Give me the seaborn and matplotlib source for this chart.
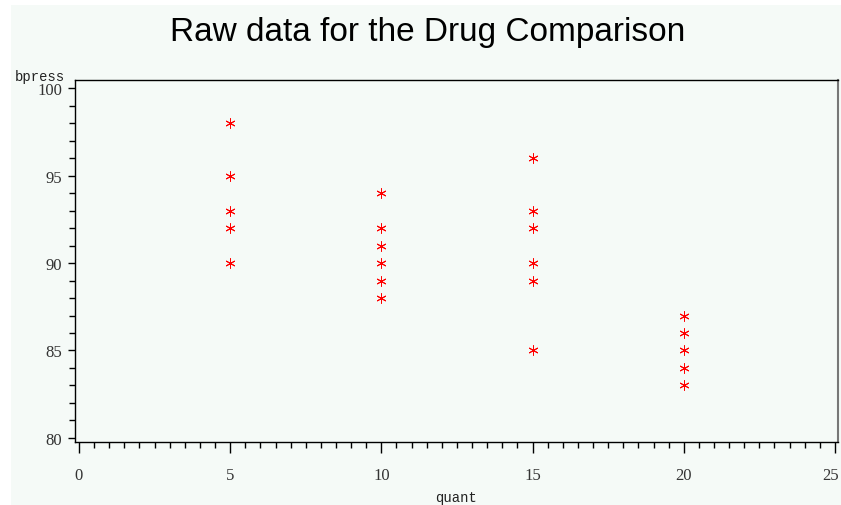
import numpy as np
import pandas as pd
import seaborn as sns
import matplotlib.pyplot as plt
import matplotlib.transforms as mtransforms
from matplotlib.patches import Rectangle
from matplotlib.ticker import MultipleLocator

# Raw data
quant = [5, 5, 5, 5, 5,
         10, 10, 10, 10, 10, 10,
         15, 15, 15, 15, 15, 15,
         20, 20, 20, 20, 20]
bpress = [98, 95, 93, 92, 90,
          94, 92, 91, 90, 89, 88,
          96, 93, 92, 90, 89, 85,
          87, 86, 85, 84, 83]
x_ticks = [0, 5, 10, 15, 20, 25]
y_ticks = [80, 85, 90, 95, 100]

df = pd.DataFrame({"quant": quant, "bpress": bpress})

sns.set_style("white")
plt.rcParams["font.family"] = ["Liberation Sans", "DejaVu Sans"]

W, H = 841, 506
fig = plt.figure(figsize=(W / 100, H / 100), dpi=100)
bg = "#f5faf7"
fig.patch.set_facecolor("white")
fig.add_artist(Rectangle((11 / W, 0), 1 - 11 / W, 1 - 6 / H, transform=fig.transFigure,
                         facecolor=bg, edgecolor="none", zorder=-10))

ax = fig.add_axes([75 / W, 1 - 443 / H, (838 - 75) / W, (443 - 81) / H])
ax.set_facecolor(bg)

sns.scatterplot(data=df, x="quant", y="bpress", marker=(6, 2, 0), color="red",
                s=45, linewidth=0.7, ax=ax, legend=False)

ax.set_xlim(-0.13, 25.1)
ax.set_ylim(79.77, 100.46)
ax.set_xticks(x_ticks)
ax.set_yticks(y_ticks)
ax.xaxis.set_minor_locator(MultipleLocator(0.5))
ax.yaxis.set_minor_locator(MultipleLocator(1))
ax.tick_params(axis="both", which="both", bottom=True, left=True, top=False, right=False)
ax.tick_params(axis="x", which="major", length=8, width=1, direction="out", pad=10,
               colors="black", labelcolor="#333333", labelsize=12)
ax.tick_params(axis="x", which="minor", length=4, width=1, direction="out", colors="black")
ax.tick_params(axis="y", which="major", length=5, width=1, direction="out", pad=4,
               colors="black", labelcolor="#333333", labelsize=12)
ax.tick_params(axis="y", which="minor", length=4, width=1, direction="out", colors="black")
for lab in ax.get_xticklabels() + ax.get_yticklabels():
    lab.set_fontfamily("Liberation Serif")
# keep the last x label inside the figure
last = ax.get_xticklabels()[-1]
last.set_transform(last.get_transform() + mtransforms.ScaledTranslation(-4 / 100, 0, fig.dpi_scale_trans))

for side in ["left", "bottom", "top"]:
    ax.spines[side].set_color("black")
    ax.spines[side].set_linewidth(1)
ax.spines["right"].set_color("#777777")
ax.spines["right"].set_linewidth(1.5)

ax.set_xlabel("")
ax.set_ylabel("")
fig.text(40 / W, 1 - 77 / H, "bpress", family="Liberation Mono", fontsize=10,
         ha="center", va="center", color="#222222")
fig.text(456 / W, 1 - 498 / H, "quant", family="Liberation Mono", fontsize=10,
         ha="center", va="center", color="#222222")
fig.text(428 / W, 1 - 33 / H, "Raw data for the Drug Comparison", fontsize=24,
         ha="center", va="center", color="black")

fig.savefig("out.png", dpi=100, facecolor="white")
